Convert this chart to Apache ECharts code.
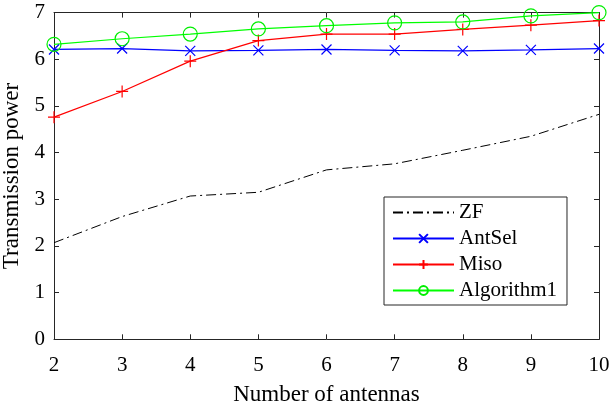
<!DOCTYPE html>
<html><head><meta charset="utf-8">
<script src="https://cdn.jsdelivr.net/npm/echarts@6/dist/echarts.min.js"></script>
<style>html,body{margin:0;padding:0;background:#fff}#c{width:612px;height:407px}</style>
</head><body><div id="c"></div>
<script>
const antennas = [2, 3, 4, 5, 6, 7, 8, 9, 10];
const zf = [2.07, 2.63, 3.07, 3.15, 3.63, 3.76, 4.05, 4.35, 4.82];
const antSel = [6.21, 6.23, 6.18, 6.19, 6.21, 6.19, 6.18, 6.2, 6.23];
const miso = [4.76, 5.31, 5.96, 6.4, 6.54, 6.54, 6.64, 6.73, 6.83];
const algorithm1 = [6.32, 6.44, 6.54, 6.65, 6.72, 6.78, 6.8, 6.93, 7.0];
const xTicks = [2, 3, 4, 5, 6, 7, 8, 9, 10];
const yTicks = [0, 1, 2, 3, 4, 5, 6, 7];

const FONT = 'Liberation Serif';
const AX = '#262626';
const pts = arr => arr.map((v, i) => [antennas[i], v]);
const crossPath = 'path://M0,0L10,10M10,0L0,10';
const plusPath = 'path://M5,0L5,10M0,5L10,5';

const axisCommon = {
  axisLine: { show: true, onZero: false, lineStyle: { color: AX, width: 1 } },
  axisTick: { show: true, inside: true, length: 5, lineStyle: { color: AX } },
  splitLine: { show: false }
};

const chart = echarts.init(document.getElementById('c'));
chart.setOption({
  animation: false,
  backgroundColor: '#fff',
  textStyle: { fontFamily: FONT },
  grid: { left: 54, right: 13, top: 12.6, bottom: 67.7, containLabel: false, outerBoundsMode: 'none' },
  xAxis: [
    Object.assign({ type: 'value', min: 2, max: 10, interval: 1, position: 'bottom',
      name: 'Number of antennas', nameLocation: 'middle', nameGap: 44,
      nameTextStyle: { fontFamily: FONT, fontSize: 23, color: '#000' },
      axisLabel: { fontFamily: FONT, fontSize: 21, color: '#000', margin: 16,
        formatter: v => xTicks.includes(v) ? String(v) : '' } }, axisCommon),
    Object.assign({ type: 'value', min: 2, max: 10, interval: 1, position: 'top',
      axisLabel: { show: false } }, axisCommon)
  ],
  yAxis: [
    Object.assign({ type: 'value', min: 0, max: 7, interval: 1, position: 'left',
      name: 'Transmission power', nameLocation: 'middle', nameGap: 24,
      nameTextStyle: { fontFamily: FONT, fontSize: 23, color: '#000' },
      axisLabel: { fontFamily: FONT, fontSize: 21, color: '#000', margin: 9,
        formatter: v => yTicks.includes(v) ? String(v) : '' } }, axisCommon),
    Object.assign({ type: 'value', min: 0, max: 7, interval: 1, position: 'right',
      axisLabel: { show: false } }, axisCommon)
  ],
  legend: {
    left: 384, top: 197, orient: 'vertical',
    backgroundColor: '#fff', borderColor: AX, borderWidth: 1, borderRadius: 0,
    padding: [5, 10, 4, 8], itemGap: 5, itemWidth: 61, itemHeight: 11,
    textStyle: { fontFamily: FONT, fontSize: 21, color: '#000', lineHeight: 21 },
    data: ['ZF', 'AntSel', 'Miso', 'Algorithm1']
  },
  series: [
    { name: 'ZF', type: 'line', data: pts(zf), symbol: 'circle', showSymbol: false, symbolSize: 0,
      lineStyle: { color: '#000', width: 1, type: [10, 4, 2, 4] },
      itemStyle: { color: 'rgba(0,0,0,0)', borderWidth: 0 } },
    { name: 'AntSel', type: 'line', data: pts(antSel), symbol: crossPath, symbolSize: 10,
      lineStyle: { color: '#0000ff', width: 1.2 },
      itemStyle: { color: 'rgba(0,0,0,0)', borderColor: '#0000ff', borderWidth: 1.2 } },
    { name: 'Miso', type: 'line', data: pts(miso), symbol: plusPath, symbolSize: 12,
      lineStyle: { color: '#ff0000', width: 1.2 },
      itemStyle: { color: 'rgba(0,0,0,0)', borderColor: '#ff0000', borderWidth: 1.2 } },
    { name: 'Algorithm1', type: 'line', data: pts(algorithm1), symbol: 'circle', symbolSize: 14,
      lineStyle: { color: '#00ff00', width: 1.2 },
      itemStyle: { color: 'rgba(0,0,0,0)', borderColor: '#00ee00', borderWidth: 1.2 } }
  ]
});
</script></body></html>
